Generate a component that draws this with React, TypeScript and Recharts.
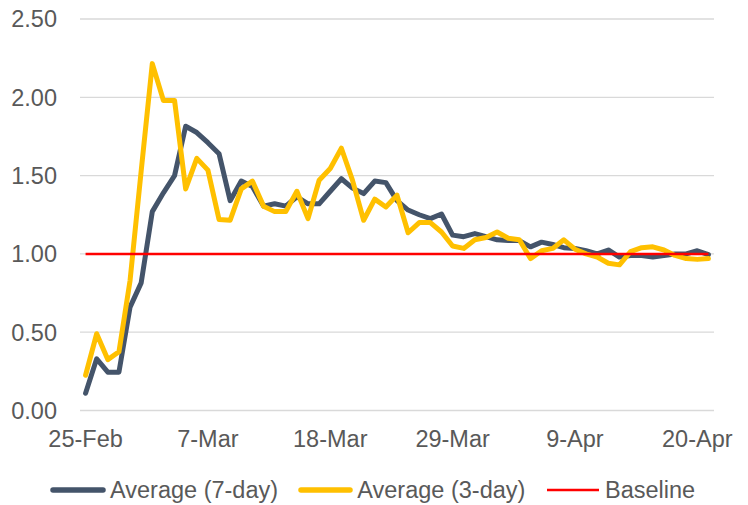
import React from 'react';
import { LineChart, Line, XAxis, YAxis, CartesianGrid } from 'recharts';

// Day index 0 = 25-Feb, 56 = 21-Apr
const avg7 = [
  0.11, 0.33, 0.245, 0.245, 0.66, 0.815, 1.27, 1.39, 1.5, 1.815,
  1.775, 1.71, 1.64, 1.34, 1.465, 1.43, 1.305, 1.32, 1.305, 1.365,
  1.32, 1.32, 1.4, 1.48, 1.42, 1.385, 1.465, 1.455, 1.34, 1.28,
  1.25, 1.225, 1.255, 1.12, 1.11, 1.13, 1.11, 1.09, 1.085, 1.085,
  1.045, 1.075, 1.06, 1.04, 1.035, 1.02, 1.0, 1.025, 0.98, 0.99,
  0.99, 0.98, 0.99, 1.0, 1.0, 1.02, 0.995,
];
const avg3 = [
  0.225, 0.49, 0.325, 0.375, 0.83, 1.53, 2.215, 1.98, 1.98, 1.415,
  1.61, 1.535, 1.22, 1.215, 1.415, 1.465, 1.305, 1.27, 1.27, 1.4,
  1.225, 1.47, 1.545, 1.675, 1.47, 1.215, 1.35, 1.3, 1.375, 1.135,
  1.2, 1.2, 1.14, 1.05, 1.035, 1.09, 1.105, 1.14, 1.1, 1.09,
  0.97, 1.02, 1.035, 1.09, 1.03, 1.0, 0.98, 0.94, 0.93, 1.015,
  1.04, 1.045, 1.025, 0.99, 0.97, 0.965, 0.97,
];
const baselineValue = 1;

const labelDays = [0, 11, 22, 33, 44, 55];
const labelTexts = ['25-Feb', '7-Mar', '18-Mar', '29-Mar', '9-Apr', '20-Apr'];
const tickMarkDays = [-0.5, 10.5, 21.5, 32.5, 43.5, 54.5];
const yTicks = [0, 0.5, 1, 1.5, 2, 2.5];

const seriesNames = ['Average (7-day)', 'Average (3-day)', 'Baseline'];
const colors = ['#44546A', '#FFC000', '#FF0000'];

const data = avg7.map((v, i) => ({ day: i, avg7: v, avg3: avg3[i], base: baselineValue }));

const FONT = '"Liberation Sans", Arial, sans-serif';
const TEXT = '#595959';
const GRID = '#D9D9D9';

const legendItems = [
  { left: 50, swatch: 56, textLeft: 110, width: 5.5 },
  { left: 297.5, swatch: 55, textLeft: 357.3, width: 5.5 },
  { left: 546.5, swatch: 52.5, textLeft: 605, width: 2.5 },
];

export default function App() {
  const labelFor = (v: number) => {
    const idx = labelDays.indexOf(v);
    return idx >= 0 ? labelTexts[idx] : '';
  };
  return (
    <div style={{ position: 'absolute', left: 0, top: 0, width: 748, height: 505, background: '#fff', fontFamily: FONT }}>
      <LineChart width={748} height={505} data={data} margin={{ top: 19, right: 34, left: 0, bottom: 54.5 }}>
        <CartesianGrid horizontal vertical={false} stroke={GRID} strokeWidth={1.3} />
        <XAxis
          dataKey="day"
          type="number"
          domain={[-0.5, 56.5]}
          ticks={tickMarkDays}
          tickFormatter={() => ''}
          height={0}
          tickSize={5}
          axisLine={{ stroke: GRID, strokeWidth: 1.3 }}
          tickLine={{ stroke: GRID, strokeWidth: 1.3 }}
          allowDecimals
        />
        <XAxis
          xAxisId="labels"
          dataKey="day"
          type="number"
          domain={[-0.5, 56.5]}
          ticks={labelDays}
          interval={0}
          tickFormatter={labelFor}
          height={40}
          tickSize={0}
          tickMargin={20}
          axisLine={false}
          tickLine={false}
          tick={{ fill: TEXT, fontSize: 23.5, fontFamily: FONT }}
        />
        <YAxis
          domain={[0, 2.5]}
          ticks={yTicks}
          interval={0}
          width={80}
          tickSize={0}
          tickMargin={23}
          axisLine={false}
          tickLine={false}
          tickFormatter={(v: number) => v.toFixed(2)}
          tick={{ fill: TEXT, fontSize: 23.5, fontFamily: FONT }}
        />
        <Line dataKey="avg7" name={seriesNames[0]} stroke={colors[0]} strokeWidth={5} dot={false} strokeLinejoin="round" strokeLinecap="round" isAnimationActive={false} />
        <Line dataKey="avg3" name={seriesNames[1]} stroke={colors[1]} strokeWidth={5} dot={false} strokeLinejoin="round" strokeLinecap="round" isAnimationActive={false} />
        <Line dataKey="base" name={seriesNames[2]} stroke={colors[2]} strokeWidth={2.5} dot={false} isAnimationActive={false} />
      </LineChart>
      {seriesNames.map((n, i) => {
        const it = legendItems[i];
        return (
          <React.Fragment key={n}>
            <svg style={{ position: 'absolute', left: it.left, top: 485 }} width={it.swatch} height={10}>
              <line x1={it.width > 3 ? 3 : 0} y1={5} x2={it.width > 3 ? it.swatch - 3 : it.swatch} y2={5} stroke={colors[i]} strokeWidth={it.width} strokeLinecap={it.width > 3 ? 'round' : 'butt'} />
            </svg>
            <span style={{ position: 'absolute', left: it.textLeft, top: 476, lineHeight: '28px', fontSize: 23.5, color: TEXT, whiteSpace: 'nowrap' }}>{n}</span>
          </React.Fragment>
        );
      })}
    </div>
  );
}
